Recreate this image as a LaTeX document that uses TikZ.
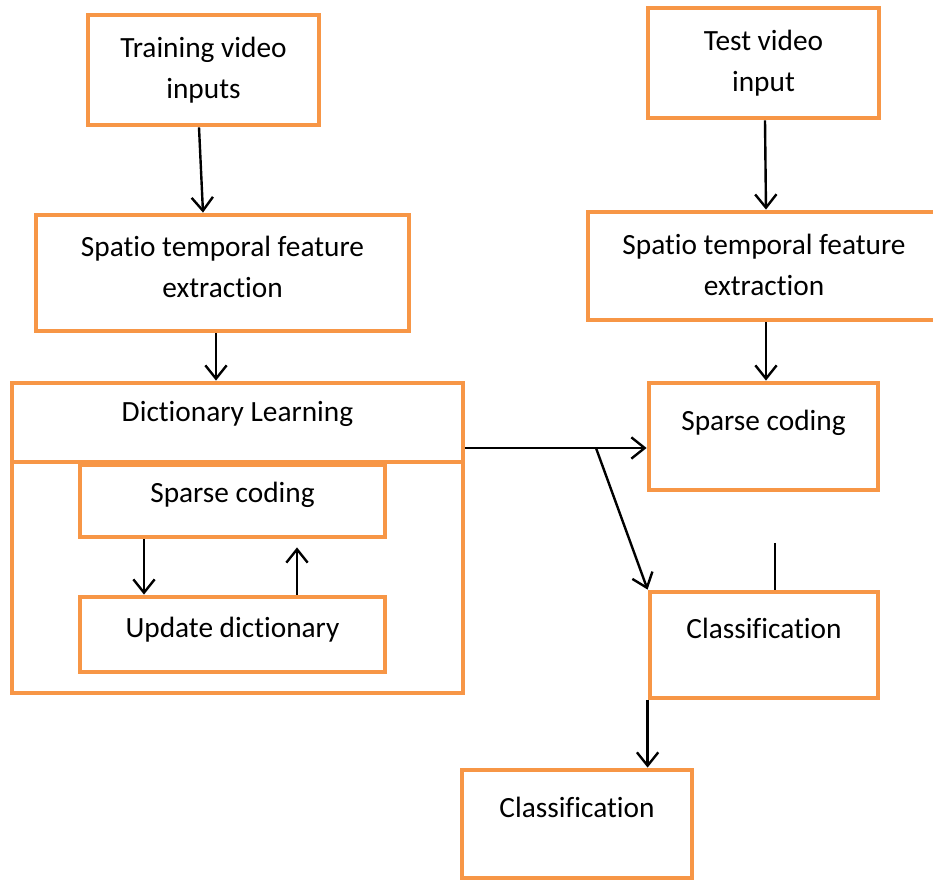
\documentclass[tikz,border=0pt]{standalone}
\usepackage{fontspec}
\setmainfont[Ligatures=NoCommon]{Carlito}
\usetikzlibrary{arrows.meta}
\definecolor{boxorange}{HTML}{F79646}

\begin{document}
\begin{tikzpicture}[
                x=0.75pt, y=-0.75pt,
                every node/.style={font=\fontsize{22pt}{31pt}\selectfont, align=center},
                flowbox/.style={draw=boxorange, line width=3.6pt, inner sep=0pt},
                lift/.style={text depth=#1},
                arr/.style={line width=1.8pt, -{Straight Barb[length=10pt,width=16pt]}}
            ]

            \useasboundingbox (0,0) rectangle (933,880);

            % training branch
            \node[flowbox, minimum width=173.25pt, minimum height=82.5pt] (train) at (203.5,70) {Training video\\inputs};
            \node[flowbox, lift=9pt, minimum width=279.75pt, minimum height=87pt] (spatioL) at (222.5,273) {Spatio temporal feature\\extraction};

            % dictionary learning block
            \node[flowbox, lift=16pt, minimum width=338.25pt, minimum height=59.25pt] (dict) at (237.5,422.5) {Dictionary Learning};
            \node[flowbox, minimum width=338.25pt, minimum height=173.25pt] (dictbody) at (237.5,577.5) {};
            \node[flowbox, lift=13pt, minimum width=228.75pt, minimum height=54pt] (sparseD) at (232.5,501) {Sparse coding};
            \node[flowbox, lift=11.5pt, minimum width=228.75pt, minimum height=56.25pt] (update) at (232.5,634.5) {Update dictionary};

            % test branch
            \node[flowbox, minimum width=173.25pt, minimum height=82.5pt] (test) at (763.5,63) {Test video\\input};
            \node[flowbox, lift=2pt, minimum width=264pt, minimum height=81pt] (spatioR) at (764,266) {Spatio temporal feature\\extraction};
            \node[flowbox, lift=25pt, minimum width=171.75pt, minimum height=80.25pt] (sparseR) at (763.5,436.5) {Sparse coding};
            \node[flowbox, lift=25pt, minimum width=171pt, minimum height=79.5pt] (classR) at (764,645) {Classification};
            \node[flowbox, lift=25pt, minimum width=172.5pt, minimum height=81pt] (classB) at (577,824) {Classification};

            \coordinate (fork) at (596,448);
            \coordinate (stub) at (775,543);

            % connectors
            \draw[arr] (train.south -| 199,0) -- (spatioL.north -| 203,0);
            \draw[arr] (spatioL.south -| 216,0) -- (dict.north -| 216,0);
            \draw[arr] (sparseD.south -| 144,0) -- (update.north -| 144,0);
            \draw[arr, shorten >=6pt] (update.north -| 297,0) -- (sparseD.south -| 297,0);
            \draw[arr] (test.south -| 765,0) -- (spatioR.north -| 766,0);
            \draw[arr] (spatioR.south -| 766,0) -- (sparseR.north -| 766,0);
            \draw[arr] (dict.east |- fork) -- (sparseR.west |- fork);
            \draw[arr] (fork) -- (classR.north west);
            \draw[line width=1.8pt] (stub) -- (classR.north -| stub);
            \draw[arr] (classR.south west) -- (classB.north -| classR.south west);

        \end{tikzpicture}
\end{document}
